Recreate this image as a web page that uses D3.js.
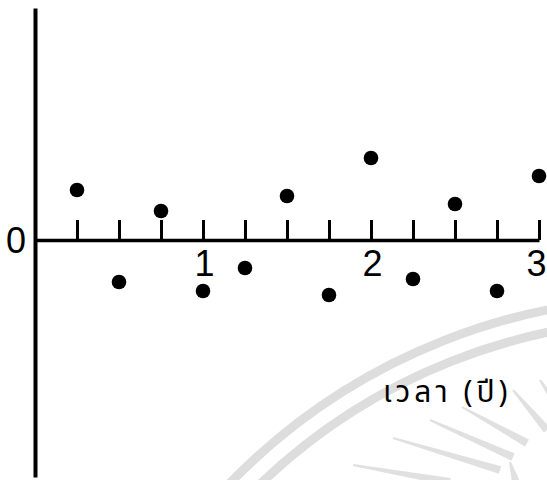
<!DOCTYPE html>
<html>
<head>
<meta charset="utf-8">
<script src="https://cdn.jsdelivr.net/npm/d3@7"></script>
<style>
  html, body { margin: 0; padding: 0; background: #fff; }
  svg { display: block; }
</style>
</head>
<body>
<svg id="chart" width="547" height="480"></svg>
<script>
// ---- data ----
const times = [0.25, 0.5, 0.75, 1.0, 1.25, 1.5, 1.75, 2.0, 2.25, 2.5, 2.75, 3.0];
const values = [1.0, -0.84, 0.58, -1.02, -0.56, 0.88, -1.1, 1.64, -0.78, 0.72, -1.02, 1.28];
const xTickValues = [0.25, 0.5, 0.75, 1.0, 1.25, 1.5, 1.75, 2.0, 2.25, 2.5, 2.75, 3.0];
const xLabelValues = [1, 2, 3];
const yLabelValues = [0];
const xTitle = "เวลา (ปี)";

// ---- decoration (scan watermark) ----
const wmArcs = [{r: 611, w: 9}, {r: 589, w: 9}];
const wmRays = [
  [393, 438, 500, 470], [430, 420, 513, 457], [462, 407, 527, 443],
  [513, 390, 547, 430], [540, 380, 560, 410], [353, 465, 450, 482],
  [510, 462, 516, 482]
];

const svg = d3.select("#chart");

// watermark
const wm = svg.append("g").attr("fill", "none");
wm.selectAll("circle").data(wmArcs).join("circle")
  .attr("cx", 668).attr("cy", 909).attr("r", d => d.r)
  .attr("stroke", "#dddddd").attr("stroke-width", d => d.w);
wm.selectAll("path").data(wmRays).join("path")
  .attr("fill", "#e0e0e0")
  .attr("d", d => {
    const [x1, y1, x2, y2] = d;
    const dx = x2 - x1, dy = y2 - y1, L = Math.hypot(dx, dy);
    const nx = -dy / L, ny = dx / L;
    const w1 = 1, w2 = 4;
    return `M${x1 + nx * w1},${y1 + ny * w1}L${x2 + nx * w2},${y2 + ny * w2}` +
           `L${x2 - nx * w2},${y2 - ny * w2}L${x1 - nx * w1},${y1 - ny * w1}Z`;
  });

// scales
const x = d3.scaleLinear().domain([0, 3]).range([35, 539]);
const y = d3.scaleLinear().domain([-4.74, 4.64]).range([477, 8]);

// vertical axis
const yAxis = svg.append("g").attr("transform", `translate(${x(0)},0)`)
  .call(d3.axisLeft(y).tickValues(yLabelValues).tickSize(0).tickPadding(9)
        .tickFormat(d3.format("d")));
yAxis.select(".domain").attr("stroke", "#000").attr("stroke-width", 4);
yAxis.selectAll("text")
  .attr("font-family", "'Liberation Sans', Arial, sans-serif")
  .attr("font-size", 36).attr("fill", "#000").attr("dy", "0.34em");

// horizontal axis line + ticks
const xAxis = svg.append("g").attr("transform", `translate(0,${y(0)})`)
  .call(d3.axisTop(x).tickValues(xTickValues).tickSize(20).tickSizeOuter(0).tickFormat(""));
xAxis.select(".domain").attr("stroke", "#000").attr("stroke-width", 3.5);
xAxis.selectAll(".tick line").attr("stroke", "#000").attr("stroke-width", 3);

// x labels
const xLab = svg.append("g").attr("transform", `translate(0,${y(0)})`)
  .call(d3.axisBottom(x).tickValues(xLabelValues).tickSize(0).tickPadding(10)
        .tickFormat(d3.format("d")));
xLab.select(".domain").remove();
xLab.selectAll("text")
  .attr("font-family", "'Liberation Sans', Arial, sans-serif")
  .attr("font-size", 36).attr("fill", "#000")
  .attr("dx", d => d === 3 ? -3 : 1);

// title
svg.append("text")
  .attr("x", 383).attr("y", 402)
  .attr("font-family", "'Noto Sans Thai', 'Loma', 'Garuda', 'Norasi', 'DejaVu Sans', sans-serif")
  .attr("font-size", 30).attr("letter-spacing", 4).attr("fill", "#000")
  .text(xTitle);

// points
svg.append("g").selectAll("circle")
  .data(times.map((t, i) => ({t, v: values[i]})))
  .join("circle")
  .attr("cx", d => x(d.t)).attr("cy", d => y(d.v))
  .attr("r", 7.3).attr("fill", "#000");
</script>
</body>
</html>
